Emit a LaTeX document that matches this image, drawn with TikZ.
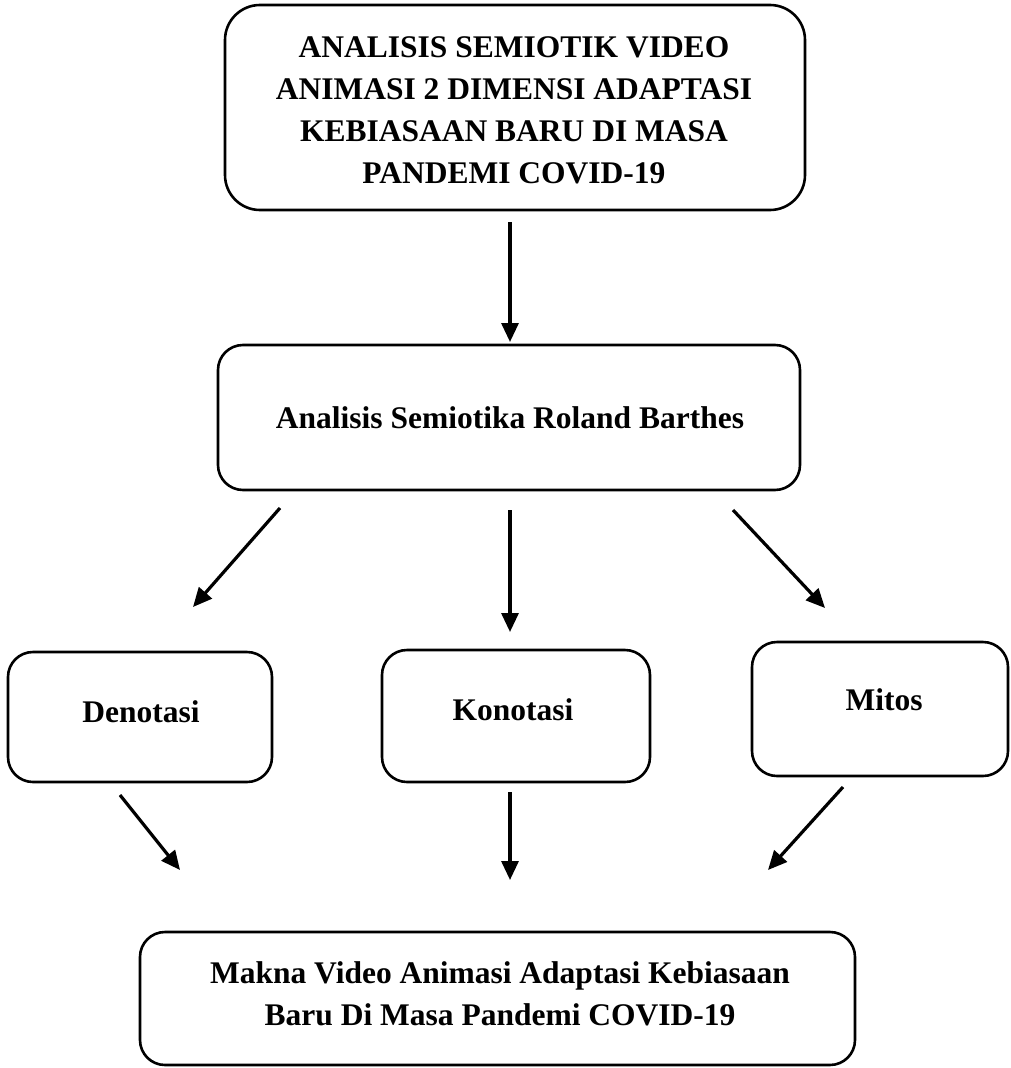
\documentclass[tikz,border=0pt]{standalone}
\usepackage{fontspec}
\setmainfont{Liberation Serif}
\usetikzlibrary{arrows.meta}
\begin{document}
\begin{tikzpicture}[x=1pt,y=-1pt,
  box/.style={draw,line width=2.6pt,rounded corners=#1},
  box/.default=25pt,
  lbl/.style={font=\bfseries\fontsize{31.5}{42}\selectfont,align=center,inner sep=0pt},
  arr/.style={line width=3.2pt,-{Triangle[length=19pt,width=17pt]}}]
\useasboundingbox (0,0) rectangle (1010,1068);
% boxes
\draw[box=35pt] (225,5) rectangle (805,210);
\draw[box] (218,345) rectangle (800,490);
\draw[box] (8,652) rectangle (272,782);
\draw[box] (382,650) rectangle (650,782);
\draw[box] (752,642) rectangle (1008,776);
\draw[box] (140,932) rectangle (855,1065);
% texts
\node[lbl] (top) at (514,110) {ANALISIS SEMIOTIK VIDEO\\ANIMASI 2 DIMENSI ADAPTASI\\KEBIASAAN BARU DI MASA\\PANDEMI COVID-19};
\node[lbl] (rb) at (510,418) {Analisis Semiotika Roland Barthes};
\node[lbl] (den) at (141,712) {Denotasi};
\node[lbl] (kon) at (513,710) {Konotasi};
\node[lbl] (mit) at (884,700) {Mitos};
\node[lbl] (mak) at (500,994) {Makna Video Animasi Adaptasi Kebiasaan\\Baru Di Masa Pandemi COVID-19};
% arrow end points
\coordinate (a1s) at (510,222); \coordinate (a1e) at (510,342);
\coordinate (l1s) at (280,508); \coordinate (l1e) at (193,607);
\coordinate (m1s) at (510,510); \coordinate (m1e) at (510,632);
\coordinate (r1s) at (733,510); \coordinate (r1e) at (825,608);
\coordinate (l2s) at (120,795); \coordinate (l2e) at (180,870);
\coordinate (m2s) at (510,792); \coordinate (m2e) at (510,880);
\coordinate (r2s) at (843,787); \coordinate (r2e) at (768,870);
\draw[arr] (a1s) -- (a1e);
\draw[arr] (l1s) -- (l1e);
\draw[arr] (m1s) -- (m1e);
\draw[arr] (r1s) -- (r1e);
\draw[arr] (l2s) -- (l2e);
\draw[arr] (m2s) -- (m2e);
\draw[arr] (r2s) -- (r2e);
\end{tikzpicture}
\end{document}
